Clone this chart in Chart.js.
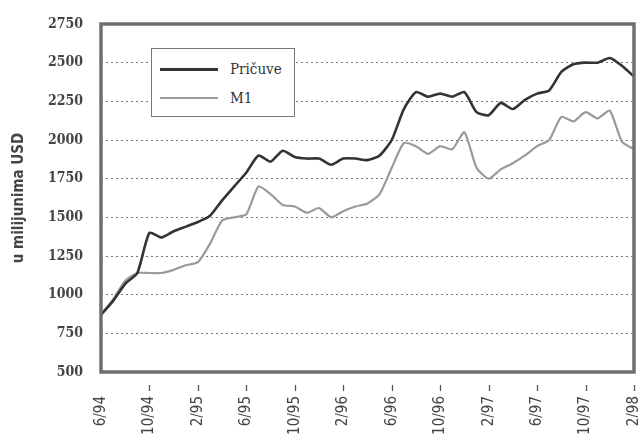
<!DOCTYPE html>
<html>
<head>
<meta charset="utf-8">
<script src="https://cdn.jsdelivr.net/npm/chart.js@4/dist/chart.umd.min.js"></script>
<style>
  html, body { margin: 0; padding: 0; background: #fff; }
  #wrap { position: relative; width: 638px; height: 438px; }
  canvas { display: block; }
  #legend {
    position: absolute; left: 151px; top: 48px; width: 144px; height: 69px;
    border: 1.5px solid #777; background: #fff; box-sizing: border-box;
    font-family: 'DejaVu Serif Condensed', 'Liberation Serif', serif; font-size: 15px; color: #333;
  }
  .item { position: absolute; left: 8px; height: 20px; display: flex; align-items: center; }
  .swatch { width: 58px; margin-right: 12px; }
</style>
</head>
<body>
<div id="wrap">
  <canvas id="c" width="638" height="438"></canvas>
  <div id="legend">
    <div class="item" style="top:10px"><span class="swatch" style="border-top:3px solid #333"></span><span>Pričuve</span></div>
    <div class="item" style="top:39px"><span class="swatch" style="border-top:2px solid #999"></span><span>M1</span></div>
  </div>
</div>
<script>
const months = [
  '6/94','7/94','8/94','9/94','10/94','11/94','12/94',
  '1/95','2/95','3/95','4/95','5/95','6/95','7/95','8/95','9/95','10/95','11/95','12/95',
  '1/96','2/96','3/96','4/96','5/96','6/96','7/96','8/96','9/96','10/96','11/96','12/96',
  '1/97','2/97','3/97','4/97','5/97','6/97','7/97','8/97','9/97','10/97','11/97','12/97',
  '1/98','2/98'
];
const shownLabels = ['6/94','10/94','2/95','6/95','10/95','2/96','6/96','10/96','2/97','6/97','10/97','2/98'];
const pricuve = [870, 960, 1070, 1140, 1400, 1370, 1410, 1440, 1470, 1510, 1610, 1700, 1790, 1900, 1860,
  1930, 1890, 1880, 1880, 1840, 1880, 1880, 1870, 1900, 2000, 2200, 2310, 2280, 2300, 2280,
  2310, 2180, 2160, 2240, 2200, 2260, 2300, 2320, 2440, 2490, 2500, 2500, 2530, 2480, 2410];
const m1 = [870, 970, 1090, 1140, 1140, 1140, 1160, 1190, 1210, 1330, 1480, 1500, 1520, 1700, 1650,
  1580, 1570, 1530, 1560, 1500, 1540, 1570, 1590, 1650, 1820, 1980, 1960, 1910, 1960, 1940,
  2050, 1820, 1750, 1810, 1850, 1900, 1960, 2000, 2150, 2120, 2180, 2140, 2190, 1990, 1940];
const yTicks = [500, 750, 1000, 1250, 1500, 1750, 2000, 2250, 2500, 2750];

const framePlugin = {
  id: 'frame',
  afterDraw(chart) {
    const {ctx, chartArea: a} = chart;
    const xs = chart.scales.x;
    ctx.save();
    ctx.strokeStyle = '#555';
    ctx.lineWidth = 1.3;
    months.forEach((m, i) => {
      if (i === 0 || !shownLabels.includes(m)) return;
      const px = Math.round(xs.getPixelForTick(i)) + 0.5;
      ctx.beginPath();
      ctx.moveTo(px, a.bottom + 13);
      ctx.lineTo(px, a.bottom + 19);
      ctx.stroke();
    });
    ctx.strokeStyle = '#6f6f6f';
    ctx.lineWidth = 3.5;
    ctx.strokeRect(a.left, a.top, a.right - a.left, a.bottom - a.top);
    ctx.restore();
  }
};

new Chart(document.getElementById('c'), {
  type: 'line',
  data: {
    labels: months,
    datasets: [
      { label: 'Pričuve', data: pricuve, borderColor: '#333', borderWidth: 2.6, pointRadius: 0, tension: 0.2 },
      { label: 'M1', data: m1, borderColor: '#9a9a9a', borderWidth: 2.2, pointRadius: 0, tension: 0.2 }
    ]
  },
  options: {
    responsive: false,
    animation: false,
    layout: { padding: { top: 24, right: 4, left: 0, bottom: 0 } },
    plugins: { legend: { display: false }, tooltip: { enabled: false } },
    scales: {
      x: {
        offset: false,
        afterFit(s) { s.height = 66; s.paddingLeft = 0; s.paddingRight = 0; },
        border: { display: false },
        grid: { display: false, drawTicks: false },
        ticks: {
          autoSkip: false,
          maxRotation: 90,
          minRotation: 90,
          padding: 24,
          color: '#444',
          font: { family: "'Liberation Sans Narrow', 'DejaVu Sans Condensed', 'Liberation Sans', sans-serif", size: 15 },
          callback: (v, i) => shownLabels.includes(months[i]) ? months[i] : ''
        }
      },
      y: {
        min: 500,
        max: 2750,
        afterFit(s) { s.width = 101; s.paddingTop = 0; s.paddingBottom = 0; },
        afterBuildTicks(s) { s.ticks = yTicks.map(v => ({ value: v })); },
        border: { display: false, dash: [2, 3] },
        grid: { drawTicks: false, color: '#777', lineWidth: 1 },
        ticks: {
          padding: 18,
          color: '#444',
          font: { family: "'DejaVu Serif Condensed', 'Liberation Serif', serif", size: 14, weight: 'bold' },
          callback: (v) => String(v)
        },
        title: {
          display: true,
          text: 'u milijunima USD',
          color: '#444',
          padding: { top: 10, bottom: 0 },
          font: { family: "'Liberation Sans Narrow', 'DejaVu Sans Condensed', 'Liberation Sans', sans-serif", size: 15, weight: 'bold' }
        }
      }
    }
  },
  plugins: [framePlugin]
});
</script>
</body>
</html>
